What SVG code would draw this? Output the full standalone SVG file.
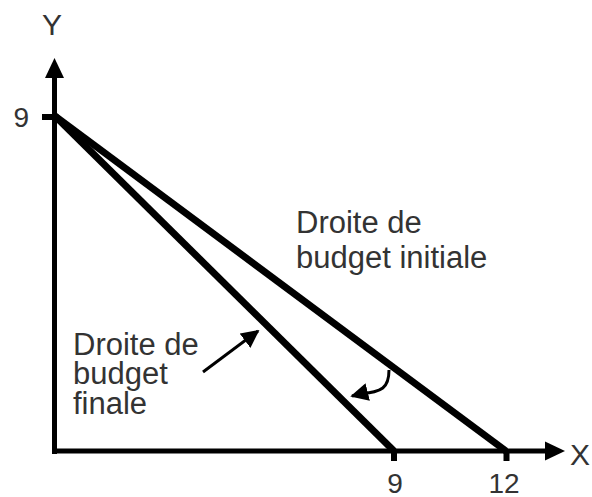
<svg xmlns="http://www.w3.org/2000/svg" width="592" height="497" viewBox="0 0 592 497">
<style>
text{font-family:"Liberation Sans",Arial,sans-serif;font-size:31px;fill:#333333}
.nm{font-size:28px}
.ax{stroke:#000;stroke-width:5;fill:none}
.bl{stroke:#000;stroke-width:7;fill:none;stroke-linecap:butt}
.tk{stroke:#000;stroke-width:6;fill:none}
.ar{stroke:#000;stroke-width:3;fill:none}
</style>
<defs>
<marker id="ah" viewBox="0 0 10 10" refX="9" refY="5" markerWidth="6" markerHeight="6" markerUnits="strokeWidth" orient="auto">
<path d="M0,0 L10,5 L0,10 z" fill="#000"/>
</marker>
</defs>
<g id="axes">
<line class="ax" x1="54.5" y1="454" x2="54.5" y2="76"/>
<polygon points="54.5,58 45,78 64,78" fill="#000"/>
<line class="ax" x1="52" y1="451" x2="547" y2="451"/>
<polygon points="565,451 545,441.5 545,460.5" fill="#000"/>
<line class="tk" x1="42" y1="117" x2="55" y2="117"/>
<line class="tk" x1="394" y1="451" x2="394" y2="461"/>
<line class="tk" x1="506.5" y1="451" x2="506.5" y2="461"/>
<text x="52" y="35" text-anchor="middle" style="font-size:30px">Y</text>
<text class="nm" x="29" y="127" text-anchor="end">9</text>
<text x="570" y="465" style="font-size:30px">X</text>
<text class="nm" x="395" y="493" text-anchor="middle">9</text>
<text class="nm" x="504" y="493" text-anchor="middle">12</text>
</g>
<g id="initiale">
<line class="bl" x1="55" y1="116" x2="506" y2="451"/>
<text x="296" y="233">Droite de</text>
<text x="296" y="268">budget initiale</text>
</g>
<g id="finale">
<line class="bl" x1="55" y1="116" x2="394" y2="451"/>
<text x="73" y="355">Droite de</text>
<text x="73" y="384">budget</text>
<text x="73" y="414">finale</text>
</g>
<g id="connectors">
<line class="ar" x1="203" y1="372" x2="258" y2="331" marker-end="url(#ah)"/>
<path class="ar" d="M389,370 C389,388 382,392 360,394 L352,396" marker-end="url(#ah)"/>
</g>
</svg>
